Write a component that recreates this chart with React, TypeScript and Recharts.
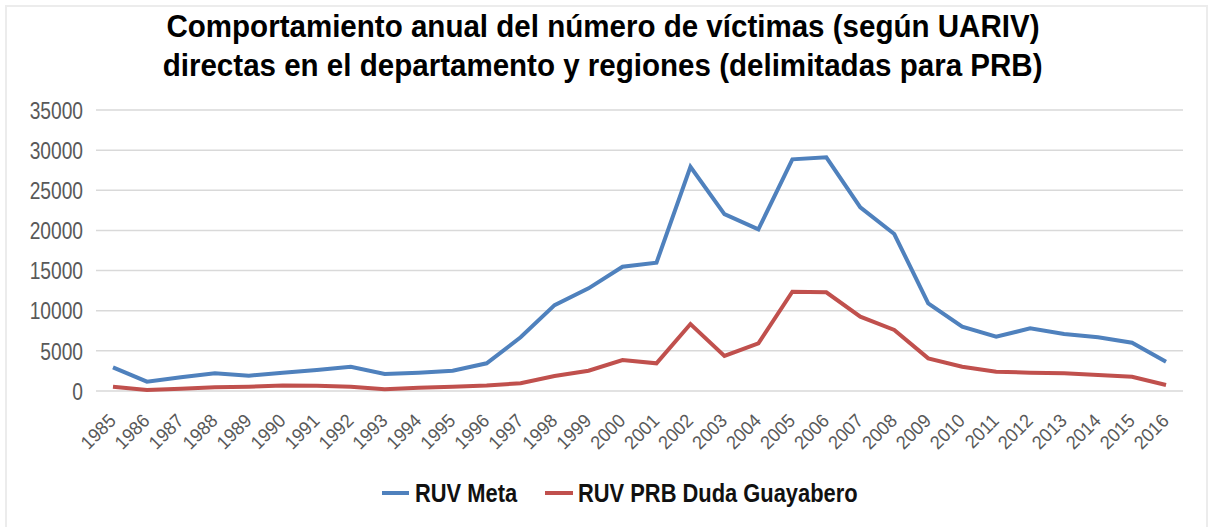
import React from 'react';
import { LineChart, Line, XAxis, YAxis, CartesianGrid } from 'recharts';

// Values (victims per year)
const years = [
  '1985', '1986', '1987', '1988', '1989', '1990', '1991', '1992', '1993', '1994', '1995',
  '1996', '1997', '1998', '1999', '2000', '2001', '2002', '2003', '2004', '2005', '2006',
  '2007', '2008', '2009', '2010', '2011', '2012', '2013', '2014', '2015', '2016',
];
const ruvMeta = [
  2950, 1160, 1700, 2200, 1900, 2280, 2610, 3030, 2120, 2280, 2530,
  3450, 6690, 10700, 12790, 15480, 15980, 27930, 22040, 20140, 28850, 29100,
  22880, 19550, 10920, 8010, 6770, 7800, 7100, 6690, 6020, 3650,
];
const ruvPrb = [
  540, 120, 290, 460, 540, 700, 660, 540, 210, 420, 540,
  700, 960, 1870, 2530, 3860, 3450, 8340, 4360, 5940, 12370, 12290,
  9250, 7600, 4070, 3030, 2400, 2280, 2200, 1990, 1780, 750,
];
const yTicks = [0, 5000, 10000, 15000, 20000, 25000, 30000, 35000];

// no Arial Narrow here: Liberation Sans squeezed horizontally
const FONT = "'Liberation Sans', Arial, sans-serif";
const BLUE = '#4F81BD';
const RED = '#C0504D';

const data = years.map((year, i) => ({ year, meta: ruvMeta[i], prb: ruvPrb[i] }));

const YearTick = (props: any) => {
  const { x, y, payload } = props;
  return (
    <text
      transform={`translate(${x + 4},${y + 31}) rotate(-45) scale(0.95,1)`}
      textAnchor="end"
      fontFamily={FONT}
      fontSize={19}
      fill="#595959"
    >
      {payload.value}
    </text>
  );
};

const ValueTick = (props: any) => {
  const { x, y, payload } = props;
  return (
    <text
      transform={`translate(${x},${y}) scale(0.8,1)`}
      textAnchor="end"
      dy="0.36em"
      fontFamily={FONT}
      fontSize={24}
      fill="#595959"
    >
      {payload.value}
    </text>
  );
};

const squeeze = (s: number, origin = 'center'): React.CSSProperties => ({
  display: 'inline-block',
  transform: `scaleX(${s})`,
  transformOrigin: origin,
  whiteSpace: 'nowrap',
});

const legendText: React.CSSProperties = {
  position: 'absolute', top: 478, lineHeight: '30px',
  fontFamily: FONT, fontWeight: 'bold', fontSize: 25, color: '#111',
  ...squeeze(0.875, 'left'),
};

export default function App() {
  return (
    <div style={{ position: 'fixed', left: 0, top: 0, width: 1208, height: 527, background: '#fff', overflow: 'hidden' }}>
      {/* light frame around the chart */}
      <div
        style={{
          position: 'absolute', left: 5, top: 5, width: 1199, height: 540,
          borderLeft: '2px solid #ececec', borderTop: '2px solid #ececec', borderRight: '2px solid #ececec',
        }}
      />
      <div
        style={{
          position: 'absolute', left: 0, top: 7, width: 1206, textAlign: 'center',
          fontFamily: FONT, fontWeight: 'bold', fontSize: 32, lineHeight: '39px', color: '#000',
        }}
      >
        <span style={squeeze(0.923)}>Comportamiento anual del número de víctimas (según UARIV)</span>
        <br />
        <span style={squeeze(0.923)}>directas en el departamento y regiones (delimitadas para PRB)</span>
      </div>
      <div style={{ position: 'absolute', left: 0, top: 0 }}>
        <LineChart width={1208} height={527} data={data} margin={{ top: 110, right: 25, bottom: 66, left: 8 }}>
          <CartesianGrid vertical={false} stroke="#d9d9d9" strokeWidth={1.5} />
          <XAxis
            dataKey="year"
            scale="band"
            interval={0}
            height={70}
            axisLine={false}
            tickLine={false}
            tickSize={0}
            tickMargin={0}
            tick={<YearTick />}
          />
          <YAxis
            domain={[0, 35000]}
            ticks={yTicks}
            width={88}
            axisLine={false}
            tickLine={false}
            tickSize={0}
            tickMargin={13}
            tick={<ValueTick />}
          />
          <Line dataKey="meta" name="RUV Meta" stroke={BLUE} strokeWidth={4} dot={false} isAnimationActive={false} />
          <Line dataKey="prb" name="RUV PRB Duda Guayabero" stroke={RED} strokeWidth={4} dot={false} isAnimationActive={false} />
        </LineChart>
      </div>
      {/* legend */}
      <span style={{ position: 'absolute', left: 382, top: 491, width: 27, height: 4, background: BLUE }} />
      <span style={{ ...legendText, left: 415 }}>RUV Meta</span>
      <span style={{ position: 'absolute', left: 545, top: 491, width: 28, height: 4, background: RED }} />
      <span style={{ ...legendText, left: 578 }}>RUV PRB Duda Guayabero</span>
    </div>
  );
}
